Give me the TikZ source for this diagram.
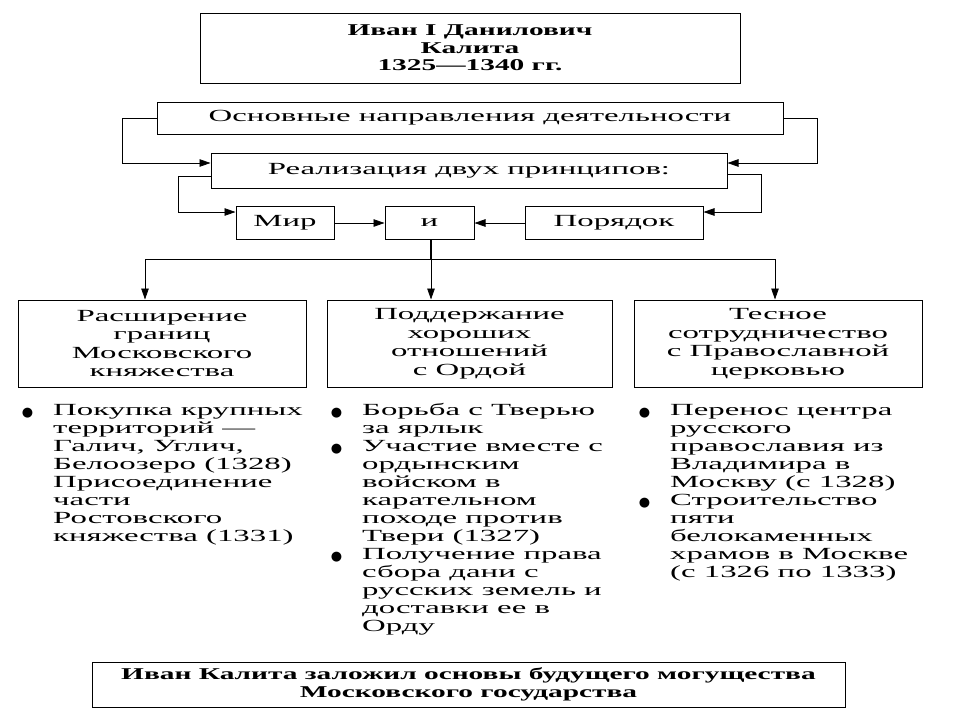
\documentclass[tikz,border=0pt]{standalone}
\usepackage{fontspec}
\setmainfont{Liberation Serif}[UprightFeatures={FakeStretch=1.93}, BoldFeatures={FakeStretch=1.78}]
\newfontfamily\dotfont{DejaVu Sans}
\usetikzlibrary{arrows.meta}
\newcommand{\blt}{\llap{\raisebox{-1pt}{\dotfont\fontsize{13}{13}\selectfont ●}\hspace{20pt}}}

\begin{document}
\begin{tikzpicture}[x=1pt, y=-1pt,
		box/.style={draw, line width=1pt, inner sep=0pt, align=center, font=\fontsize{17}{18.5}\selectfont},
		head/.style={box, font=\bfseries\fontsize{16.5}{17.5}\selectfont},
		arr/.style={line width=0.8pt, -{Triangle[length=11pt, width=7.5pt]}},
		list/.style={anchor=north west, inner sep=0pt, align=left, font=\fontsize{17}{18}\selectfont}]
		\useasboundingbox (0,0) rectangle (960,720);
	
		\node[head, minimum width=540pt, minimum height=70pt] (title) at (470,48) {Иван I Данилович\\Калита\\1325---1340 гг.};
	
		\node[box, minimum width=626pt, minimum height=32pt] (osn) at (470,118) {Основные направления деятельности};
		\node[box, minimum width=516pt, minimum height=35pt] (real) at (469,170.5) {Реализация двух принципов:};
	
		\node[box, minimum width=98pt, minimum height=33pt] (mir) at (285,223) {Мир};
		\node[box, minimum width=89pt, minimum height=33pt] (and) at (429.5,223) {и};
		\node[box, minimum width=178pt, minimum height=33pt] (por) at (614,223) {Порядок};
	
		\draw[arr] (osn.west) -- ++(-34,0) |- ([yshift=7.5pt]real.west);
		\draw[arr] (osn.east) -- ++(34,0) |- ([yshift=7.5pt]real.east);
		\draw[arr] ([yshift=-5.5pt]real.west) -- ++(-32,0) |- ([yshift=11pt]mir.west);
		\draw[arr] ([yshift=-3.5pt]real.east) -- ++(34,0) |- ([yshift=11pt]por.east);
		\draw[arr] (mir) -- (and);
		\draw[arr] (por) -- (and);
	
		\node[box, minimum width=288pt, minimum height=87pt] (b1) at (162,343.5) {Расширение\\границ\\Московского\\княжества};
		\node[box, minimum width=285pt, minimum height=87pt] (b2) at (469.5,343.5) {Поддержание\\хороших\\отношений\\с Ордой};
		\node[box, minimum width=288pt, minimum height=87pt] (b3) at (778,343.5) {Тесное\\сотрудничество\\с Православной\\церковью};
	
		\draw[line width=1.2pt] ([xshift=1.5pt]and.south) -- ++(0,19.5) coordinate (split);
		\draw[arr] (split) -- (split |- b2.north);
		\draw[arr] (split) -| ([xshift=-17pt]b1.north);
		\draw[arr] (split) -| ([xshift=-3pt]b3.north);
	
		\node[list] (l1) at (53,403) {\strut\blt Покупка крупных\\территорий ---\\Галич, Углич,\\Белоозеро (1328)\\Присоединение\\части\\Ростовского\\княжества (1331)};
		\node[list] (l2) at (362,403) {\strut\blt Борьба с Тверью\\за ярлык\\\blt Участие вместе с\\ордынским\\войском в\\карательном\\походе против\\Твери (1327)\\\blt Получение права\\сбора дани с\\русских земель и\\доставки ее в\\Орду};
		\node[list] (l3) at (670,403) {\strut\blt Перенос центра\\русского\\православия из\\Владимира в\\Москву (с 1328)\\\blt Строительство\\пяти\\белокаменных\\храмов в Москве\\(с 1326 по 1333)};
	
		\node[head, minimum width=753pt, minimum height=45pt, font=\bfseries\fontsize{16.5}{18}\selectfont] (final) at (468.5,684.5) {Иван Калита заложил основы будущего могущества\\Московского государства};
	\end{tikzpicture}
\end{document}
